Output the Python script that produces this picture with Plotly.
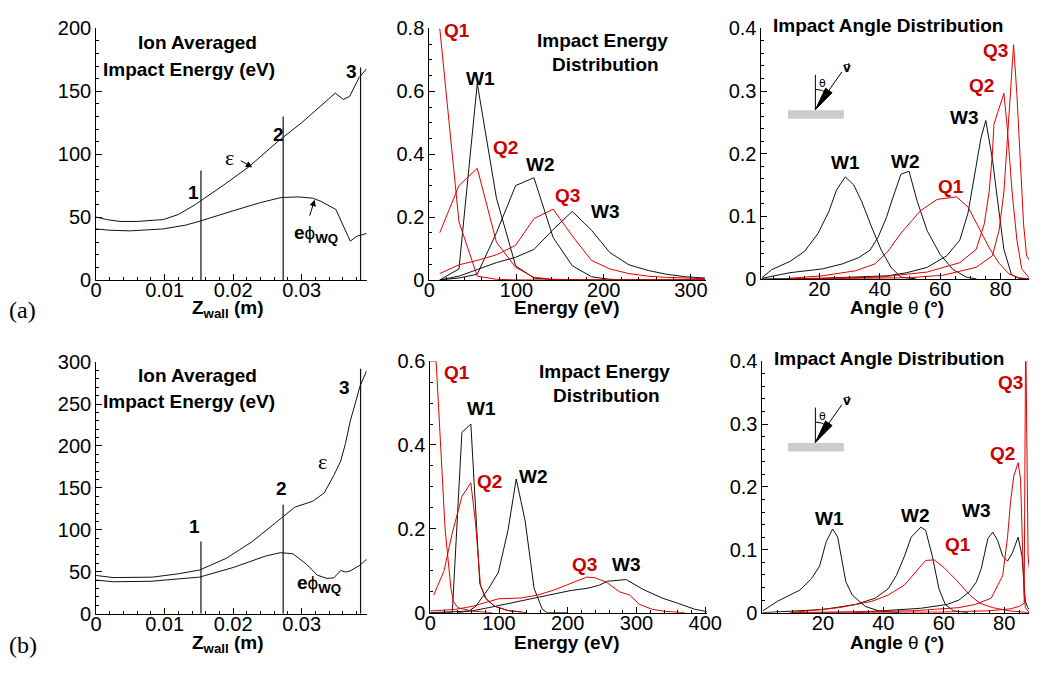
import plotly.graph_objects as go

W, H = 1044, 673

# ---------------- Ion averaged impact energy along the wall ----------------
# case (a)
z_eps_a = [0.0, 0.0015, 0.0035, 0.006, 0.0098, 0.012, 0.0145, 0.0185, 0.0223, 0.0265,
           0.030, 0.0349, 0.0361, 0.0370, 0.0384, 0.0395]
eps_a = [50, 48, 46.5, 46.5, 48, 52, 60, 75, 90, 110, 125, 148.5, 143.5, 146, 161, 168]
z_phi_a = [0.0, 0.002, 0.005, 0.0097, 0.013, 0.015, 0.020, 0.024, 0.027, 0.0295, 0.0316,
           0.0328, 0.035, 0.0359, 0.0371, 0.038, 0.0395]
phi_a = [40.5, 39.5, 39, 40.5, 43.5, 46.5, 55, 61.5, 65.5, 66, 65, 62.5, 56, 44.6, 30.8, 34.6, 37]
# case (b)
z_eps_b = [0.0, 0.0025, 0.0082, 0.0119, 0.0151, 0.019, 0.0228, 0.0269, 0.029, 0.0316, 0.0333,
           0.0347, 0.0357, 0.0364, 0.0371, 0.0378, 0.0385, 0.0395]
eps_b = [45.5, 43, 43.5, 47.4, 52, 66, 86, 113, 127, 134, 144, 165, 182, 203, 230, 250, 271, 290]
z_phi_b = [0.0, 0.0025, 0.008, 0.0151, 0.020, 0.0247, 0.0269, 0.0287, 0.0307, 0.0323, 0.0337,
           0.0347, 0.0357, 0.0364, 0.0371, 0.0385, 0.0395]
phi_b = [40, 38, 38.6, 43.6, 55, 68.6, 72.7, 71.5, 59, 45.8, 42, 42.7, 51.5, 49.6, 51, 57.7, 65]

# wall stations 1, 2, 3 and the height of their marker lines
station_z = [0.0153, 0.0273, 0.0386]
station_names = ["1", "2", "3"]
station_top_a = [87, 130, 169]
station_top_b = [86, 130, 292]

# ---------------- Impact energy distribution (a) ----------------
energy_a = [12, 34, 55, 77, 99, 120, 142, 164, 186, 207, 229, 251, 272, 294, 316]
ied_W1_a = [0.0, 0.035, 0.625, 0.26, 0.045, 0.006, 0.001, 0, 0, 0, 0, 0, 0, 0, 0]
ied_W2_a = [0.0, 0.006, 0.018, 0.15, 0.30, 0.325, 0.135, 0.045, 0.01, 0.002, 0, 0, 0, 0, 0]
ied_W3_a = [0.0, 0.012, 0.033, 0.055, 0.072, 0.097, 0.16, 0.218, 0.158, 0.087, 0.048, 0.03,
            0.018, 0.01, 0.006]
ied_Q1_a = [0.8, 0.185, 0.012, 0.002, 0, 0, 0, 0, 0, 0, 0, 0, 0, 0, 0]
ied_Q2_a = [0.15, 0.30, 0.355, 0.12, 0.04, 0.008, 0.002, 0, 0, 0, 0, 0, 0, 0, 0]
ied_Q3_a = [0.02, 0.048, 0.062, 0.08, 0.11, 0.195, 0.225, 0.14, 0.062, 0.035, 0.02, 0.012,
            0.008, 0.005, 0.004]

# ---------------- Impact energy distribution (b) ----------------
e_W1_b = [0, 32, 46, 59, 72, 80, 94, 113, 140]
ied_W1_b = [0, 0, 0.43, 0.45, 0.07, 0.035, 0.015, 0.005, 0]
e_W2_b = [40, 56, 66, 85, 99, 113, 125, 138, 151, 163, 170, 200]
ied_W2_b = [0, 0.004, 0.015, 0.058, 0.096, 0.196, 0.319, 0.219, 0.058, 0.008, 0, 0]
e_W3_b = [0, 60, 85, 130, 155, 180, 205, 228, 245, 258, 270, 285, 309, 337, 361, 385, 404]
ied_W3_b = [0, 0.004, 0.012, 0.027, 0.035, 0.045, 0.053, 0.058, 0.065, 0.075, 0.076, 0.079,
            0.056, 0.035, 0.022, 0.008, 0.002]
e_Q1_b = [0, 8.5, 21.5, 30, 33.5, 40, 60, 90]
ied_Q1_b = [0.6, 0.6, 0.2, 0.058, 0.027, 0.012, 0.004, 0]
e_Q2_b = [5, 20, 32, 46, 59, 66, 73, 82, 94, 113, 132]
ied_Q2_b = [0.042, 0.1, 0.19, 0.277, 0.31, 0.21, 0.065, 0.031, 0.015, 0.005, 0.002]
e_Q3_b = [0, 37, 61, 85, 99, 132, 156, 180, 204, 228, 240, 256, 275, 290, 304, 323, 342, 370]
ied_Q3_b = [0.004, 0.008, 0.015, 0.027, 0.033, 0.035, 0.042, 0.054, 0.069, 0.085, 0.083,
            0.073, 0.05, 0.042, 0.02, 0.008, 0.003, 0]

# ---------------- Impact angle distribution (a) ----------------
th_W1_a = [1, 4.3, 10.3, 15.1, 19.5, 23.2, 25.7, 28.6, 31.4, 34, 37.3, 40.5, 43.8, 47, 52]
iad_W1_a = [0.002, 0.015, 0.028, 0.044, 0.072, 0.108, 0.142, 0.163, 0.15, 0.124, 0.083,
            0.046, 0.018, 0.003, 0]
th_W2_a = [1, 10.3, 21, 27.6, 33, 36.8, 39.5, 42.2, 44.3, 47, 49.7, 52.4, 55.7, 60, 64.3, 68.6, 72]
iad_W2_a = [0.001, 0.01, 0.016, 0.024, 0.034, 0.046, 0.067, 0.098, 0.129, 0.167, 0.172,
            0.124, 0.077, 0.039, 0.015, 0.003, 0]
th_W3_a = [1, 20, 42.7, 49, 55.7, 62.2, 66.5, 69.2, 71.9, 73.5, 75.1, 77.3, 78.9, 81.1, 83.6, 86, 89.5]
iad_W3_a = [0, 0.001, 0.005, 0.01, 0.0185, 0.037, 0.062, 0.105, 0.18, 0.225, 0.253, 0.191,
            0.129, 0.047, 0.007, 0.001, 0]
th_Q1_a = [10, 21, 32, 38.4, 42.7, 47, 53.5, 59, 65.4, 69.2, 73, 76.2, 79.5, 82.8, 86, 89.5]
iad_Q1_a = [0.001, 0.005, 0.013, 0.024, 0.044, 0.073, 0.109, 0.127, 0.131, 0.115, 0.08,
            0.05, 0.025, 0.008, 0.002, 0]
th_Q2_a = [10, 40, 55.7, 66.5, 71.9, 74.6, 76.2, 77.3, 77.8, 78.9, 81.1, 82.2, 83.8, 85.4, 87, 89.4]
iad_Q2_a = [0, 0.003, 0.011, 0.026, 0.047, 0.088, 0.139, 0.201, 0.247, 0.263, 0.2965, 0.242,
            0.139, 0.062, 0.016, 0.002]
th_Q3_a = [10, 50, 61, 71.9, 77.3, 79.5, 81.1, 82.2, 83.2, 84.3, 85.4, 86.5, 87.6, 88.6, 89.5]
iad_Q3_a = [0, 0.002, 0.006, 0.0185, 0.037, 0.078, 0.139, 0.217, 0.294, 0.374, 0.294, 0.191,
            0.088, 0.037, 0.03]

# ---------------- Impact angle distribution (b) ----------------
th_W1_b = [0, 4.9, 12.4, 16.2, 18.9, 21.1, 23.2, 24.9, 27.6, 29.7, 34, 38.4, 45]
iad_W1_b = [0.0026, 0.018, 0.036, 0.054, 0.074, 0.113, 0.133, 0.12, 0.049, 0.028, 0.01, 0.003, 0]
th_W2_b = [0, 20, 30.8, 37.3, 41.6, 44.3, 47, 49.2, 52.4, 54, 56.2, 58.4, 60.5, 63.2, 68]
iad_W2_b = [0, 0.005, 0.013, 0.023, 0.038, 0.059, 0.09, 0.12, 0.136, 0.131, 0.09, 0.038,
            0.013, 0.003, 0]
th_W3_b = [30, 41.6, 52.4, 61, 65, 68.6, 70.8, 72.4, 74.6, 76.2, 77.8, 79.5, 81.1, 82.7,
           84.6, 85.9, 86.5, 87, 87.8, 88.3]
iad_W3_b = [0, 0.003, 0.007, 0.013, 0.02, 0.034, 0.049, 0.07, 0.118, 0.128, 0.115, 0.09,
            0.082, 0.095, 0.12, 0.09, 0.049, 0.018, 0.008, 0.005]
th_Q1_b = [9, 25.4, 36.2, 41.6, 47, 51.4, 54, 56.8, 60, 64.3, 68.6, 71.9, 76.2, 81.6, 86, 88.3]
iad_Q1_b = [0, 0.008, 0.018, 0.028, 0.044, 0.069, 0.083, 0.084, 0.072, 0.051, 0.028, 0.015,
            0.008, 0.003, 0.001, 0]
th_Q2_b = [10, 50, 64.9, 70.3, 75.7, 79.5, 81.1, 82.1, 83.2, 84.6, 85.4, 85.9, 86.5, 87, 88.3]
iad_Q2_b = [0, 0.003, 0.008, 0.013, 0.023, 0.059, 0.12, 0.177, 0.218, 0.2385, 0.213, 0.11,
            0.033, 0.008, 0]
th_Q3_b = [10, 60, 75, 82, 85, 86.6, 87.1, 87.9, 88.5]
iad_Q3_b = [0, 0.001, 0.003, 0.006, 0.01, 0.015, 0.45, 0.09, 0.06]

BLACK = "#111111"
RED = "#e00000"
LABEL_RED = "#cc0000"
SANS = "Liberation Sans, Arial, sans-serif"


def px(x):
    return x / W


def py(y):
    return 1 - y / H


fig = go.Figure()


def add_line(x, y, panel, color, width=1.0):
    sfx = "" if panel == 1 else str(panel)
    fig.add_trace(go.Scatter(x=x, y=y, mode="lines", xaxis="x" + sfx, yaxis="y" + sfx,
                             line=dict(color=color, width=width), hoverinfo="skip",
                             showlegend=False))


# left panels: averaged energy and sheath potential, plus station markers
add_line(z_eps_a, eps_a, 1, BLACK)
add_line(z_phi_a, phi_a, 1, BLACK)
add_line(z_eps_b, eps_b, 4, BLACK)
add_line(z_phi_b, phi_b, 4, BLACK)
for z, top in zip(station_z, station_top_a):
    add_line([z, z], [0, top], 1, BLACK, 1.2)
for z, top in zip(station_z, station_top_b):
    add_line([z, z], [0, top], 4, BLACK, 1.2)

# middle panels: energy distributions
for y, c in [(ied_W1_a, BLACK), (ied_W2_a, BLACK), (ied_W3_a, BLACK),
             (ied_Q1_a, RED), (ied_Q2_a, RED), (ied_Q3_a, RED)]:
    add_line(energy_a, y, 2, c)
for x, y, c in [(e_W1_b, ied_W1_b, BLACK), (e_W2_b, ied_W2_b, BLACK), (e_W3_b, ied_W3_b, BLACK),
                (e_Q1_b, ied_Q1_b, RED), (e_Q2_b, ied_Q2_b, RED), (e_Q3_b, ied_Q3_b, RED)]:
    add_line(x, y, 5, c)

# right panels: angle distributions
for x, y, c in [(th_W1_a, iad_W1_a, BLACK), (th_W2_a, iad_W2_a, BLACK), (th_W3_a, iad_W3_a, BLACK),
                (th_Q1_a, iad_Q1_a, RED), (th_Q2_a, iad_Q2_a, RED), (th_Q3_a, iad_Q3_a, RED)]:
    add_line(x, y, 3, c)
for x, y, c in [(th_W1_b, iad_W1_b, BLACK), (th_W2_b, iad_W2_b, BLACK), (th_W3_b, iad_W3_b, BLACK),
                (th_Q1_b, iad_Q1_b, RED), (th_Q2_b, iad_Q2_b, RED), (th_Q3_b, iad_Q3_b, RED)]:
    add_line(x, y, 6, c)


def axis(domain_px, rng, horizontal, anchor, dtick=None, minor=None, tickvals=None,
         ticktext=None, tick0=0):
    if horizontal:
        dom = [px(domain_px[0]), px(domain_px[1])]
    else:
        dom = [py(domain_px[1]), py(domain_px[0])]
    a = dict(domain=dom, range=rng, anchor=anchor, showline=True, linecolor="black",
             linewidth=1, ticks="inside", ticklen=6, tickwidth=1, tickcolor="black",
             showgrid=False, zeroline=False, fixedrange=True,
             ticklabelstandoff=-8 if horizontal else 0,
             tickfont=dict(family=SANS, size=20, color="black"),
             minor=dict(ticks="inside", ticklen=3, tickwidth=1, tickcolor="black",
                        showgrid=False, dtick=minor, tick0=tick0))
    if tickvals is not None:
        a["tickmode"] = "array"
        a["tickvals"] = tickvals
        if ticktext is not None:
            a["ticktext"] = ticktext
    else:
        a["dtick"] = dtick
        a["tick0"] = tick0
    return a


ZV = [0, 0.01, 0.02, 0.03]
ZT = ["0", "0.01", "0.02", "0.03"]
AV = [20, 40, 60, 80]

layout_axes = {
    "xaxis": axis([92, 368], [0, 0.03948], True, "y", minor=0.002, tickvals=ZV, ticktext=ZT),
    "yaxis": axis([18, 278], [0, 200], False, "x", dtick=50, minor=10),
    "xaxis2": axis([432, 714], [0, 316.9], True, "y2", dtick=100, minor=20),
    "yaxis2": axis([18, 278], [0, 0.8], False, "x2", dtick=0.2, minor=0.05),
    "xaxis3": axis([771, 1044], [0.87, 89.4], True, "y3", minor=5, tickvals=AV),
    "yaxis3": axis([18, 277], [0, 0.4], False, "x3", dtick=0.1, minor=0.02),
    "xaxis4": axis([92, 368], [0, 0.03948], True, "y4", minor=0.002, tickvals=ZV, ticktext=ZT),
    "yaxis4": axis([363, 623], [0, 300], False, "x4", dtick=50, minor=10),
    "xaxis5": axis([433, 715], [0, 402], True, "y5", dtick=100, minor=20),
    "yaxis5": axis([362, 622], [0, 0.6], False, "x5", dtick=0.2, minor=0.05),
    "xaxis6": axis([772, 1044], [0, 88.2], True, "y6", minor=5, tickvals=AV),
    "yaxis6": axis([362, 622], [0, 0.4], False, "x6", dtick=0.1, minor=0.02),
}

annotations = []


def text(x, y, s, size=19, color="black", family=SANS):
    annotations.append(dict(x=px(x), y=py(y), xref="paper", yref="paper", text=s,
                            showarrow=False, xanchor="center", yanchor="middle",
                            font=dict(family=family, size=size, color=color)))


def b(s):
    return "<b>" + s + "</b>"


# panel titles
for dy in (0, 344):
    text(195, 33 + dy, b("Ion Averaged"))
    text(187, 60 + dy, b("Impact Energy (eV)"))
text(609, 30, b("Impact Energy"))
text(612, 55, b("Distribution"))
text(611, 373, b("Impact Energy"))
text(613, 398, b("Distribution"))
text(900, 15, b("Impact Angle Distribution"))
text(901, 359, b("Impact Angle Distribution"))

# axis titles
zt = b("Z") + "<sub>" + b("wall") + "</sub>" + b(" (m)")
et = b("Energy (eV)")
at = b("Angle") + " θ " + b("(°)")
for dy in (0, 346):
    text(227, 308 + dy, zt)
    text(573, 307 + dy, et)
    text(909, 307 + dy, at)

# case tags
text(17, 309, "(a)", size=24, family="Liberation Serif, Times New Roman, serif")
text(17, 655, "(b)", size=24, family="Liberation Serif, Times New Roman, serif")

# station numbers
for name, (x, y) in zip(station_names, [(191, 188), (278, 128), (353, 63)]):
    text(x, y, b(name))
for name, (x, y) in zip(station_names, [(192, 533), (281, 494), (345, 389)]):
    text(x, y, b(name))

# curve names in the left panels
phi_label = b("e") + "ϕ" + "<sub>" + b("WQ") + "</sub>"
text(228, 151, "ε", size=22, family="Liberation Serif, serif")
text(316, 231, phi_label)
text(323, 466, "ε", size=22, family="Liberation Serif, serif")
text(319, 592, phi_label)

# pointers from the names to their curves (panel a)
for head, tail in [((0.0228, 89.5), (0.0209, 95.5)), ((0.0319, 63.8), (0.0311, 49.8))]:
    annotations.append(dict(x=head[0], y=head[1], ax=tail[0], ay=tail[1], xref="x", yref="y",
                            axref="x", ayref="y", text="", showarrow=True, arrowhead=2,
                            arrowsize=1.3, arrowwidth=1, arrowcolor="black"))

# distribution curve labels
mid_a = [("Q1", 460, 20, LABEL_RED), ("W1", 484, 70, "black"), ("Q2", 510, 141, LABEL_RED),
         ("W2", 545, 159, "black"), ("Q3", 573, 191, LABEL_RED), ("W3", 612, 207, "black")]
ang_a = [("W1", 857, 157, "black"), ("W2", 918, 156, "black"), ("Q1", 964, 181, LABEL_RED),
         ("W3", 978, 110, "black"), ("Q2", 996, 77, LABEL_RED), ("Q3", 1010, 41, LABEL_RED)]
mid_b = [("Q1", 460, 374, LABEL_RED), ("W1", 485, 411, "black"), ("Q2", 493, 486, LABEL_RED),
         ("W2", 538, 481, "black"), ("Q3", 590, 572, LABEL_RED), ("W3", 633, 572, "black")]
ang_b = [("W1", 840, 525, "black"), ("W2", 928, 522, "black"), ("W3", 990, 516, "black"),
         ("Q1", 972, 552, LABEL_RED), ("Q2", 1017, 457, LABEL_RED), ("Q3", 1025, 384, LABEL_RED)]
for name, x, y, c in mid_a + ang_a + mid_b + ang_b:
    text(x, y, b(name), color=c)

# incidence sketch: surface, normal, velocity arrow, angle arc
shapes = []
for dy in (0, 344):
    tip = (826, 102 + dy)
    shapes.append(dict(type="rect", xref="paper", yref="paper", x0=px(798), x1=px(855),
                       y0=py(111.5 + dy), y1=py(102.5 + dy), fillcolor="#cccccc",
                       line=dict(width=0)))
    shapes.append(dict(type="line", xref="paper", yref="paper", x0=px(826), x1=px(826),
                       y0=py(66 + dy), y1=py(tip[1]), line=dict(color="black", width=1)))
    shapes.append(dict(type="line", xref="paper", yref="paper", x0=px(853), x1=px(tip[0]),
                       y0=py(63 + dy), y1=py(tip[1]), line=dict(color="black", width=1)))
    head = [(tip[0], tip[1]), (843.0, 84.5 + dy), (836.4, 79.9 + dy)]
    path = "M {} {} L {} {} L {} {} Z".format(*[v for p in head for v in (px(p[0]), py(p[1]))])
    shapes.append(dict(type="path", xref="paper", yref="paper", path=path,
                       fillcolor="black", line=dict(color="black", width=1)))
    arc = "M {} {} Q {} {} {} {}".format(px(826), py(81 + dy), px(832.6), py(81 + dy),
                                         px(838), py(84.8 + dy))
    shapes.append(dict(type="path", xref="paper", yref="paper", path=arc,
                       line=dict(color="black", width=1)))
    text(833, 75 + dy, "θ", size=11, family="DejaVu Sans, sans-serif")
    text(858, 59 + dy, b("v\u20d7"), size=12, family="DejaVu Sans, sans-serif")

fig.update_layout(width=W, height=H, autosize=False, margin=dict(l=0, r=0, t=0, b=0),
                  paper_bgcolor="white", plot_bgcolor="white", showlegend=False,
                  annotations=annotations, shapes=shapes, **layout_axes)

fig.write_html("out.html")
